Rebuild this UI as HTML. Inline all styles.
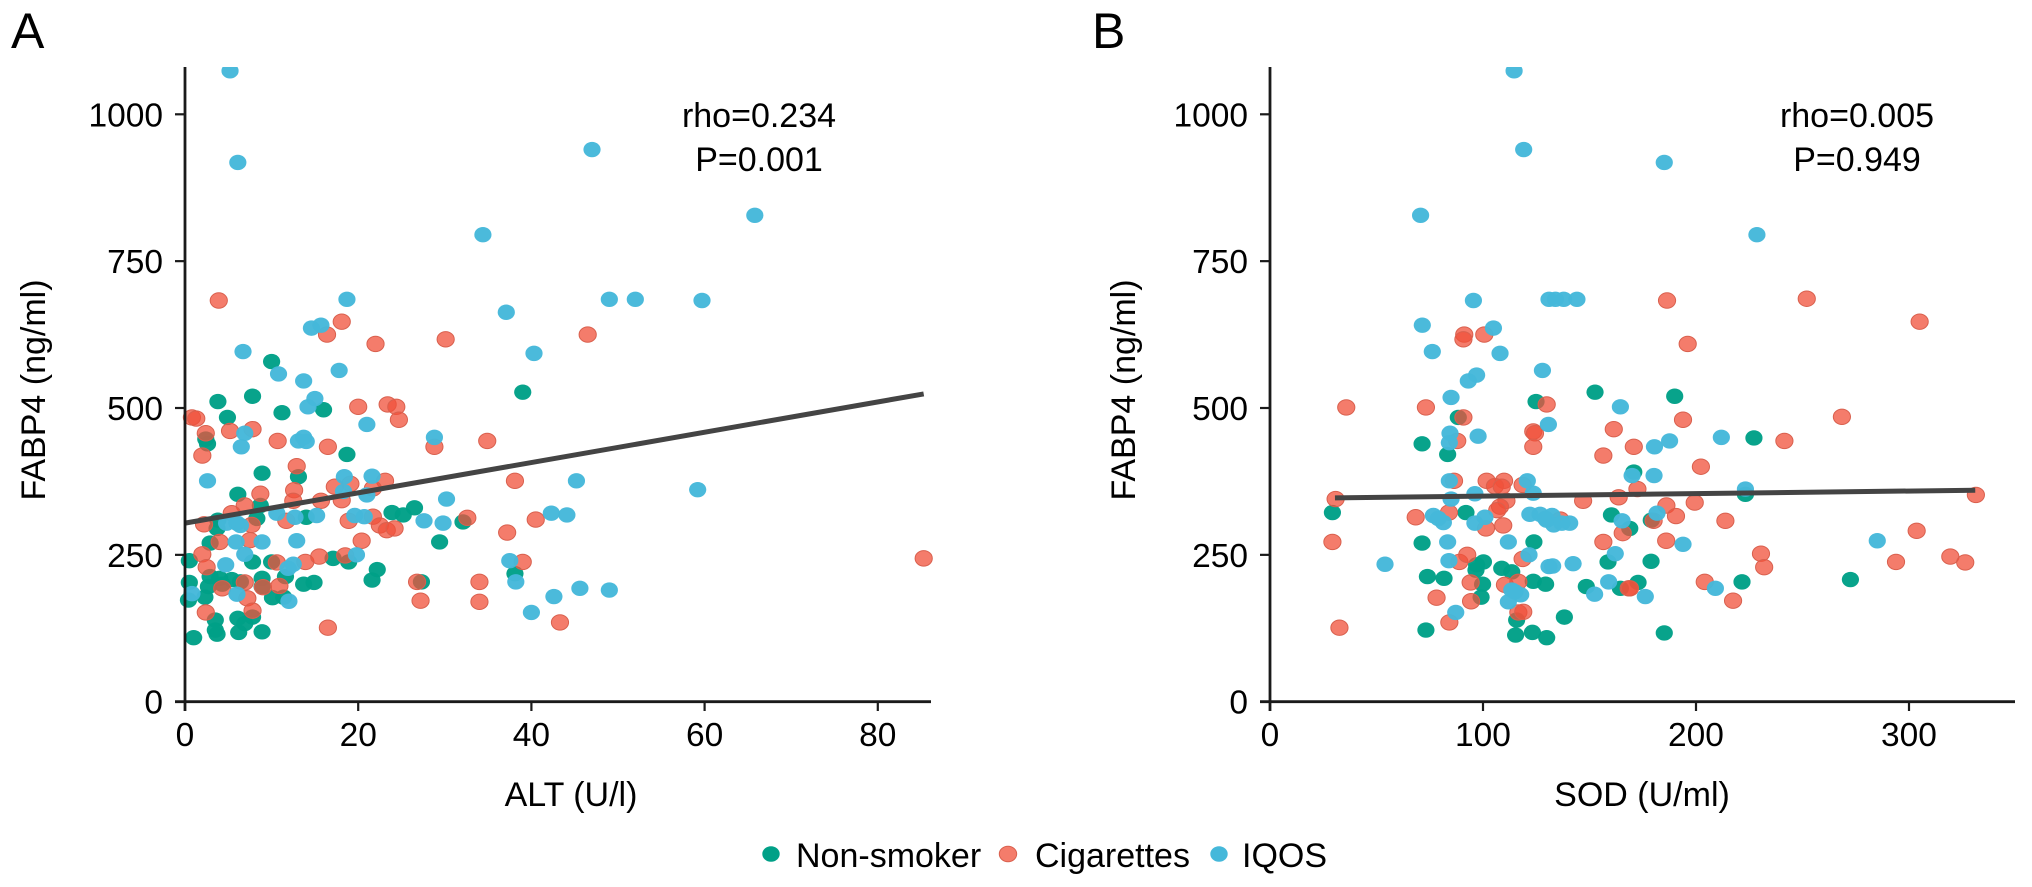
<!DOCTYPE html>
<html lang="en">
<head>
<meta charset="utf-8">
<title>FABP4 correlation scatter plots</title>
<style>
html,body{margin:0;padding:0;background:#fff;width:2032px;height:887px;overflow:hidden}
svg{display:block;font-family:"Liberation Sans",Arial,sans-serif;fill:#000}
</style>
</head>
<body>
<svg id="figure" width="2032" height="887" viewBox="0 0 2032 887" xmlns="http://www.w3.org/2000/svg">
  <text x="11" y="48" font-size="50">A</text>
  <text x="1092" y="48" font-size="50">B</text>
  <g id="panelA"></g>
  <g id="panelB"></g>
  <g>
    <g>
      <ellipse cx="771" cy="854" rx="8.7" ry="7.7" fill="#00A087"/>
      <text x="796" y="867" font-size="34">Non-smoker</text>
    </g>
    <g>
      <ellipse cx="1008" cy="854" rx="8.7" ry="7.7" fill="#F0503A" fill-opacity="0.75" stroke="#d9604e" stroke-width="1"/>
      <text x="1035" y="867" font-size="34">Cigarettes</text>
    </g>
    <g>
      <ellipse cx="1219" cy="854" rx="8.7" ry="7.7" fill="#45B8DA"/>
      <text x="1242" y="867" font-size="34">IQOS</text>
    </g>
  </g>
</svg>
<script>
// Panel A data: [ALT (U/l), FABP4 (ng/ml)]
const altNonSmoker = [[10,579],[3.8,511],[7.8,520],[16,497],[11.2,492],[4.9,484],[2.4,447],[2.6,439],[18.7,421],[8.9,389],[13.1,383],[6.1,353],[8.7,334],[3.8,309],[8.3,312],[3.7,295],[14,314],[23.9,322],[25.2,318],[26.5,330],[32.1,306],[29.4,272],[2.9,270],[7.8,238],[0.5,240],[10,238],[17.1,244],[18.9,238],[22.2,225],[21.6,207],[11.6,213],[13.7,200],[14.9,203],[27.3,204],[2.9,213],[4,210],[5.4,208],[2.7,196],[8.9,210],[0.5,203],[2.3,178],[0.4,173],[4.3,200],[6.4,204],[8.9,196],[10.1,177],[11.4,178],[7.8,144],[3.5,139],[6.1,142],[6.9,133],[1,109],[3.7,115],[6.2,118],[8.9,119],[3.5,122],[39,527],[38.1,218]];
const altCigarettes = [[3.9,683],[18.1,647],[16.4,625],[22,609],[30.1,617],[46.5,625],[38.1,376],[40.5,310],[37.2,288],[39,238],[43.3,135],[85.3,244],[20,502],[23.4,506],[24.4,502],[24.7,480],[0.8,484],[1.3,482],[5.2,461],[7.8,464],[2.4,457],[2,419],[10.7,444],[16.5,434],[28.8,434],[34.9,444],[12.9,401],[23.1,376],[17.3,366],[19.1,371],[21.7,363],[8.7,354],[12.6,360],[12.5,342],[15.7,342],[18.1,343],[6.9,334],[5.4,321],[2.2,302],[7.7,301],[11.7,308],[18.9,308],[21.7,315],[22.5,300],[23.3,292],[24.2,295],[32.6,313],[20.4,274],[7.5,275],[4,272],[2,251],[10.6,237],[13.9,238],[15.5,247],[18.5,249],[2.5,229],[26.8,204],[34,204],[27.2,172],[34,170],[4.3,193],[6.9,203],[9,195],[10.9,197],[7.2,176],[7.8,155],[2.4,152],[16.5,126]];
const altIqos = [[5.2,1074],[6.1,918],[34.4,795],[18.7,685],[14.6,636],[15.7,641],[6.7,596],[47,940],[65.8,828],[37.1,663],[49,685],[52,685],[59.7,683],[40.3,593],[45.2,376],[59.2,361],[42.3,321],[44.1,318],[37.5,240],[38.2,204],[45.6,193],[49,190],[42.6,179],[40,152],[10.8,558],[13.7,546],[17.8,564],[15,516],[14.2,502],[21,472],[6.9,457],[6.5,434],[13.1,444],[13.7,450],[14,443],[28.8,450],[2.6,376],[18.4,383],[21.6,384],[18.3,358],[21,352],[30.2,345],[4.8,304],[6,304],[6.4,300],[10.6,321],[12.7,314],[15.2,317],[19.6,317],[20.7,315],[27.6,308],[29.8,304],[8.9,272],[12.9,274],[5.9,272],[6.9,251],[12.5,234],[11.9,227],[19.8,250],[4.7,233],[0.8,184],[6,183],[12,171]];
const altTrendX = [0, 85.3];
const altTrendY = [304, 524];

// Panel B data: [SOD (U/ml), FABP4 (ng/ml)]
const sodNonSmoker = [[124.9,511],[71.4,439],[83.4,421],[88.4,484],[29.3,322],[92,322],[71.4,270],[123.9,272],[97,233],[100.2,238],[96.7,224],[108.8,227],[113.5,221],[73.9,213],[81.7,210],[99.8,200],[123.6,205],[129.4,200],[99.1,178],[115.8,139],[73.2,122],[115.3,113.5],[123.2,118],[129.9,109],[152.6,527],[190,520],[227.2,449],[170.8,391],[223.2,353],[160.3,318],[168.9,295],[179,309],[158.7,238],[178.9,239],[272.5,208],[221.6,204],[172.8,203],[164.5,193],[148.5,196],[138.2,144],[185.1,117]];
const sodCigarettes = [[91.2,625],[90.8,617],[100.6,625],[186.4,683],[252,686],[305,647],[196.1,609],[35.8,501],[73.2,501],[90.8,484],[129.9,506],[123.6,460],[124.4,457],[123.6,434],[87.9,444],[86.4,376],[101.7,376],[109.9,376],[105.6,367],[108.8,366],[118.6,369],[30.8,345],[29.3,272],[32.6,126],[111,342],[108,332],[106.7,326],[84,322],[68.4,314],[101.4,295],[109.5,300],[88.9,238],[92.6,250],[118.6,243],[94.2,203],[110.3,199],[116.6,204],[78.2,177],[94.4,171],[116.6,152],[118.9,153],[84.2,135],[193.9,480],[161.4,464],[170.8,434],[241.5,444],[268.5,485],[156.5,419],[202.3,400],[172.5,362],[163.7,348],[147,342],[186.1,334],[199.4,339],[331.4,352],[165.6,287],[180.1,308],[190.6,316],[213.8,308],[136.3,310],[156.5,272],[186,274],[303.6,291],[293.9,238],[319.4,247],[326.4,237],[230.5,252],[232,229],[204.1,204],[217.4,172],[168.4,193],[169,193]];
const sodIqos = [[114.6,1074],[119.1,940],[70.7,828],[95.5,683],[71.5,641],[76.2,596],[104.9,636],[108,593],[131,685],[185.1,918],[228.6,795],[134,685],[137.9,685],[144.1,685],[97,556],[93.1,546],[85,518],[127.9,564],[130.7,472],[84.5,457],[84.2,441],[97.7,452],[84.2,376],[120.8,376],[123.6,355],[54,234],[96.2,354],[85,345],[76.7,317],[81.4,305],[79,312],[100.9,314],[96.2,304],[122,319],[126.8,319],[129.9,309],[83.4,272],[111.9,272],[84,240],[121.6,250],[131,230],[113.5,190],[117.7,182],[111.9,170],[115,187],[87.2,152],[164.5,502],[180.5,434],[187.6,444],[211.9,450],[170,385],[180.3,385],[223.2,362],[165.3,308],[181.7,321],[140.7,304],[132.4,317],[129.3,312],[133.2,301],[137,304],[193.9,268],[162.1,252],[142.3,235],[132.7,231],[285.1,274],[209.1,193],[176.2,179],[159,204],[152.4,183]];
const sodTrendX = [30.5, 331.1];
const sodTrendY = [347, 360];

// Tick labels
const fabpTicks = [0, 250, 500, 750, 1000];
const altTicks = [0, 20, 40, 60, 80];
const sodTicks = [0, 100, 200, 300];

const SVG_NS = 'http://www.w3.org/2000/svg';
function make(tag, parent, attrs, text) {
  const el = document.createElementNS(SVG_NS, tag);
  for (const k in attrs) el.setAttribute(k, attrs[k]);
  if (text !== undefined) el.textContent = text;
  parent.appendChild(el);
  return el;
}

function drawPanel(cfg) {
  const root = document.getElementById(cfg.id);
  const sx = v => cfg.x0 + v * cfg.xScale;
  const sy = v => 701.7 - v * 0.5874;
  const top = 67;
  const clipId = cfg.id + 'Clip';
  const defs = make('defs', root, {});
  const clip = make('clipPath', defs, {id: clipId});
  make('rect', clip, {x: cfg.x0 - 12, y: top, width: cfg.xEnd - cfg.x0 + 24, height: 701.7 - top + 20});

  const marks = make('g', root, {'clip-path': 'url(#' + clipId + ')'});
  
  
  cfg.series.forEach(s => {
    const g = make('g', marks, {});
    
    
    s.data.forEach(d => {
      const dot = make('ellipse', g, {cx: sx(d[0]), cy: sy(d[1]), rx: 8.6, ry: 7.7, fill: s.fill, 'fill-opacity': s.opacity, stroke: s.stroke, 'stroke-width': s.stroke === 'none' ? 0 : 1});
      
      
    });
  });

  const trend = make('line', root, {x1: sx(cfg.trendX[0]), y1: sy(cfg.trendY[0]), x2: sx(cfg.trendX[1]), y2: sy(cfg.trendY[1]), stroke: '#444', 'stroke-width': 5});
  
  

  const yAxis = make('line', root, {x1: cfg.x0, y1: top, x2: cfg.x0, y2: 711, stroke: '#1a1a1a', 'stroke-width': 2.8});
  
  
  const xAxis = make('line', root, {x1: cfg.x0 - 10, y1: 701.7, x2: cfg.xEnd, y2: 701.7, stroke: '#1a1a1a', 'stroke-width': 2.8});
  
  

  fabpTicks.forEach(t => {
    if (t !== 0) make('line', root, {x1: cfg.x0 - 10, y1: sy(t), x2: cfg.x0, y2: sy(t), stroke: '#1a1a1a', 'stroke-width': 2.2});
    const lab = make('text', root, {x: cfg.x0 - 22, y: sy(t) + 12, 'font-size': 33.5, 'text-anchor': 'end'}, String(t));
    
    
  });
  cfg.xTicks.forEach(t => {
    if (t !== 0) make('line', root, {x1: sx(t), y1: 701.7, x2: sx(t), y2: 711, stroke: '#1a1a1a', 'stroke-width': 2.2});
    const lab = make('text', root, {x: sx(t), y: 746, 'font-size': 33.5, 'text-anchor': 'middle'}, String(t));
    
    
  });

  const yTitle = make('text', root, {transform: 'translate(' + cfg.yTitleX + ',390) rotate(-90)', 'font-size': 34, 'text-anchor': 'middle'}, 'FABP4 (ng/ml)');
  
  
  const xTitle = make('text', root, {x: cfg.xTitleX, y: 806, 'font-size': 34, 'text-anchor': 'middle'}, cfg.xTitle);
  
  

  const rho = make('text', root, {x: cfg.statX, y: 127, 'font-size': 34, 'text-anchor': 'middle'}, cfg.rho);
  
  
  const p = make('text', root, {x: cfg.statX, y: 171, 'font-size': 34, 'text-anchor': 'middle'}, cfg.p);
  
  
}

const styleGreen = {name: 'non-smoker', fill: '#00A087', opacity: 0.97, stroke: 'none'};
const styleRed = {name: 'cigarettes', fill: '#F0503A', opacity: 0.75, stroke: '#d9604e'};
const styleBlue = {name: 'iqos', fill: '#45B8DA', opacity: 0.97, stroke: 'none'};

drawPanel({
  id: 'panelA', x0: 185, xEnd: 931, xScale: 8.66, xTicks: altTicks,
  yTitleX: 45, xTitleX: 571, xTitle: 'ALT (U/l)', statX: 759,
  rho: 'rho=0.234', p: 'P=0.001', trendX: altTrendX, trendY: altTrendY,
  series: [
    Object.assign({data: altNonSmoker}, styleGreen),
    Object.assign({data: altCigarettes}, styleRed),
    Object.assign({data: altIqos}, styleBlue)
  ]
});
drawPanel({
  id: 'panelB', x0: 1270, xEnd: 2015, xScale: 2.13, xTicks: sodTicks,
  yTitleX: 1135, xTitleX: 1642, xTitle: 'SOD (U/ml)', statX: 1857,
  rho: 'rho=0.005', p: 'P=0.949', trendX: sodTrendX, trendY: sodTrendY,
  series: [
    Object.assign({data: sodNonSmoker}, styleGreen),
    Object.assign({data: sodCigarettes}, styleRed),
    Object.assign({data: sodIqos}, styleBlue)
  ]
});
</script>
</body>
</html>
